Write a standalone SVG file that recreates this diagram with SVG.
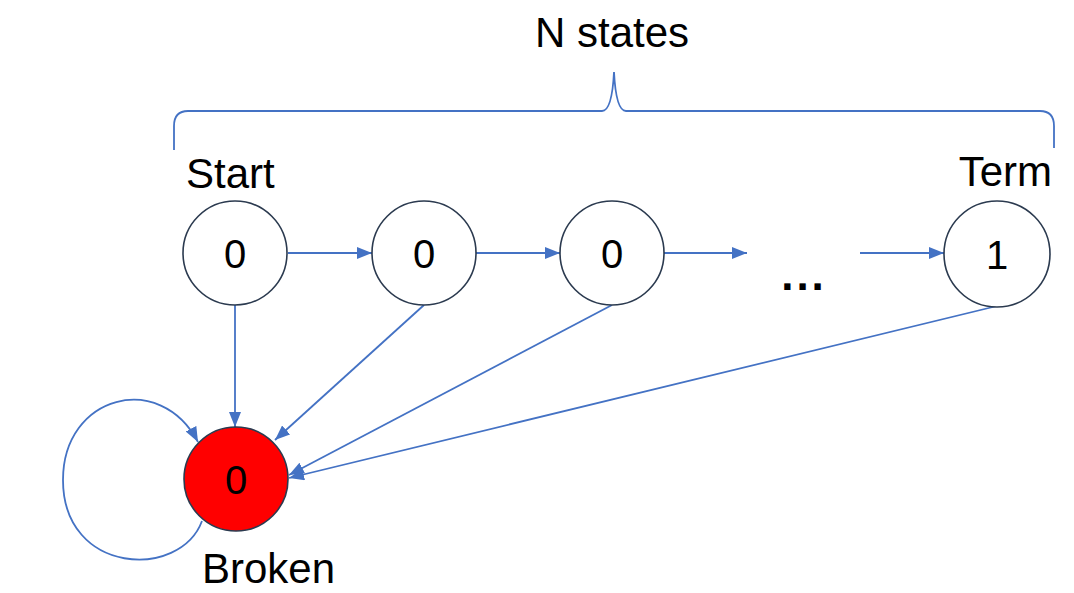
<svg xmlns="http://www.w3.org/2000/svg" width="1074" height="593" viewBox="0 0 1074 593">
  <style>
    .state { fill: #ffffff; stroke: #2b3a4f; stroke-width: 1.6; }
    .broken { fill: #ff0000; }
    .lbl { font-family: "Liberation Sans", Arial, sans-serif; font-size: 42px; fill: #000000; }
    .num { font-family: "Liberation Sans", Arial, sans-serif; font-size: 40px; fill: #000000; text-anchor: middle; }
    .edge { fill: none; stroke: #4472c4; stroke-width: 1.8; marker-end: url(#arrow); }
    .brace { fill: none; stroke: #4472c4; stroke-width: 1.8; }
  </style>
  <defs>
    <marker id="arrow" markerUnits="userSpaceOnUse" markerWidth="16" markerHeight="12" refX="15" refY="6" orient="auto">
      <path d="M0,0 L15,6 L0,12 z" fill="#4472c4"/>
    </marker>
  </defs>
  <rect width="1074" height="593" fill="#ffffff"/>

  <!-- brace spanning the chain -->
  <g id="brace">
    <path class="brace" d="M174,150 L174,126 Q174,111 188,111 L602,111 Q612,111 614,72 Q616,111 626,111 L1040,111 Q1054,111 1054,126 L1054,148"/>
    <text class="lbl" x="612" y="47" text-anchor="middle">N states</text>
  </g>

  <!-- transitions -->
  <g id="connectors">
    <line class="edge" x1="288" y1="253" x2="372" y2="253"/>
    <line class="edge" x1="476" y1="253" x2="560" y2="253"/>
    <line class="edge" x1="664" y1="253" x2="747" y2="253"/>
    <line class="edge" x1="860" y1="253" x2="944" y2="253"/>
    <line class="edge" x1="235" y1="305" x2="235" y2="427"/>
    <line class="edge" x1="424" y1="305" x2="275" y2="440"/>
    <line class="edge" x1="612" y1="305" x2="289" y2="475"/>
    <line class="edge" x1="997" y1="306" x2="289" y2="478"/>
    <path class="edge" d="M202,521 C180,580 63,575 63,480 C63,395 160,370 198,442"/>
  </g>

  <g id="start">
    <circle class="state" cx="235" cy="253" r="52"/>
    <text class="num" x="235" y="268">0</text>
    <text class="lbl" x="186" y="188">Start</text>
  </g>
  <g id="s2">
    <circle class="state" cx="424" cy="253" r="52"/>
    <text class="num" x="424" y="268">0</text>
  </g>
  <g id="s3">
    <circle class="state" cx="612" cy="253" r="52"/>
    <text class="num" x="612" y="268">0</text>
  </g>
  <g id="ellipsis">
    <text class="num" x="804" y="290" style="font-weight:bold;font-size:44px;letter-spacing:3px">...</text>
  </g>
  <g id="term">
    <circle class="state" cx="997" cy="254" r="53"/>
    <text class="num" x="997" y="269">1</text>
    <text class="lbl" x="1052" y="186" text-anchor="end">Term</text>
  </g>
  <g id="broken">
    <circle class="state broken" cx="236" cy="479" r="52"/>
    <text class="num" x="236" y="494">0</text>
    <text class="lbl" x="202" y="583">Broken</text>
  </g>
</svg>
